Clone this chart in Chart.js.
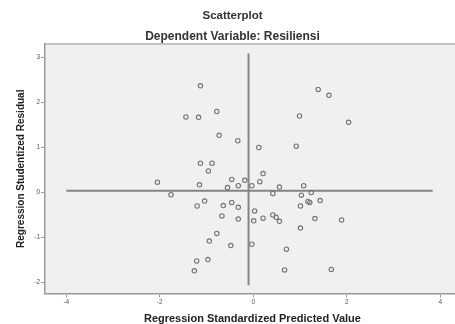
<!DOCTYPE html>
<html>
<head>
<meta charset="utf-8">
<script src="https://cdn.jsdelivr.net/npm/chart.js@4.4.1/dist/chart.umd.min.js"></script>
<style>
  html, body { margin: 0; padding: 0; background: #fff; overflow: hidden; }
  #wrap { width: 455px; height: 324px; overflow: hidden; }
</style>
</head>
<body>
<div id="wrap"><canvas id="plot" width="465" height="324"></canvas></div>
<script>
// Regression Standardized Predicted Value (x) / Regression Studentized Residual (y)
const predictedValues = [
  -1.13, -1.44, -1.17, -0.78, -0.73, -0.33, -1.13, -0.88, -0.96, -2.05,
  -0.46, 0.12, 0.92, 0.99, 1.39, 1.62, 2.04, 0.21, -0.18, 0.14,
  -1.15, -0.55, -0.32, -0.03, -1.76, -1.20, -1.04, -0.64, -0.46, -0.32,
  -0.67, -0.32, -0.78, -0.94, -0.48, -1.21, -0.97, -1.26, 0.56, 1.08,
  0.42, 1.03, 1.24, 1.17, 1.21, 1.43, 1.01, 0.03, 0.42, 0.49,
  0.56, 0.01, 0.21, 1.32, 1.89, 1.01, -0.03, 0.71, 0.67, 1.67
];
const studentizedResiduals = [
  2.36, 1.67, 1.66, 1.79, 1.26, 1.14, 0.64, 0.64, 0.47, 0.22,
  0.28, 0.99, 1.02, 1.69, 2.28, 2.15, 1.55, 0.41, 0.26, 0.23,
  0.16, 0.10, 0.14, 0.14, -0.06, -0.31, -0.20, -0.30, -0.23, -0.34,
  -0.53, -0.60, -0.92, -1.09, -1.19, -1.53, -1.50, -1.75, 0.11, 0.14,
  -0.03, -0.07, -0.01, -0.21, -0.23, -0.19, -0.31, -0.42, -0.51, -0.56,
  -0.65, -0.64, -0.58, -0.59, -0.62, -0.80, -1.16, -1.27, -1.73, -1.72
];
const xTickValues = [-4, -2, 0, 2, 4];
const yTickValues = [-2, -1, 0, 1, 2, 3];
// reference lines
const hLineX = [-4, 3.84];
const hLineY = 0.03;
const vLineX = -0.1;
const vLineY = [-2.07, 3.08];

const points = predictedValues.map((x, i) => ({ x: x, y: studentizedResiduals[i] }));

const FONT = 'Liberation Sans, Arial, sans-serif';
const lineColor = '#858585';

const plotFrame = {
  id: 'plotFrame',
  beforeDraw(chart) {
    const { ctx, chartArea: a } = chart;
    ctx.save();
    ctx.fillStyle = '#f0f0f0';
    ctx.fillRect(a.left, a.top, a.right - a.left, a.bottom - a.top);
    ctx.strokeStyle = '#c4c4c4';
    ctx.lineWidth = 2;
    ctx.beginPath();
    ctx.moveTo(a.left, a.top);
    ctx.lineTo(a.right, a.top);
    ctx.stroke();
    ctx.restore();
  }
};

new Chart(document.getElementById('plot'), {
  type: 'scatter',
  data: {
    datasets: [
      {
        data: points,
        pointStyle: 'circle',
        pointRadius: 2.2,
        borderWidth: 1.1,
        borderColor: '#737373',
        backgroundColor: 'rgba(0,0,0,0)'
      },
      {
        data: hLineX.map(x => ({ x: x, y: hLineY })),
        showLine: true,
        pointRadius: 0,
        borderColor: lineColor,
        borderWidth: 2
      },
      {
        data: vLineY.map(y => ({ x: vLineX, y: y })),
        showLine: true,
        pointRadius: 0,
        borderColor: lineColor,
        borderWidth: 2
      }
    ]
  },
  options: {
    responsive: false,
    animation: false,
    devicePixelRatio: 1,
    layout: { padding: 0 },
    plugins: {
      legend: { display: false },
      tooltip: { enabled: false },
      title: {
        display: true,
        text: 'Scatterplot',
        color: '#333',
        font: { family: FONT, size: 11.5, weight: 'bold' },
        padding: { top: 9.1, bottom: 0 }
      },
      subtitle: {
        display: true,
        text: 'Dependent Variable: Resiliensi',
        color: '#333',
        font: { family: FONT, size: 12, weight: 'bold', lineHeight: 1.15 },
        padding: { top: 7.2, bottom: 0.1 }
      }
    },
    scales: {
      x: {
        type: 'linear',
        min: -4.455,
        max: (464 - 255.3) / 47.2,
        afterFit: s => { s.height = 30.5; },
        afterBuildTicks: s => { s.ticks = xTickValues.map(v => ({ value: v })); },
        border: { display: true, color: '#999', width: 1.5 },
        grid: { drawOnChartArea: false, drawTicks: true, tickLength: 4, color: '#999' },
        ticks: {
          maxRotation: 0,
          padding: 1,
          color: '#555',
          font: { family: FONT, size: 6.5 }
        },
        title: {
          display: true,
          text: 'Regression Standardized Predicted Value',
          color: '#222',
          font: { family: FONT, size: 11, weight: 'bold', lineHeight: 1 },
          padding: 0
        }
      },
      y: {
        type: 'linear',
        min: -2.255,
        max: 3.29,
        afterFit: s => { s.width = 45; },
        afterBuildTicks: s => { s.ticks = yTickValues.map(v => ({ value: v })); },
        border: { display: true, color: '#999', width: 1.5 },
        grid: { drawOnChartArea: false, drawTicks: true, tickLength: 4, color: '#999' },
        ticks: {
          padding: 1,
          color: '#555',
          font: { family: FONT, size: 6.5 }
        },
        title: {
          display: true,
          text: 'Regression Studentized Residual',
          color: '#222',
          font: { family: FONT, size: 10, weight: 'bold' },
          padding: { top: 15, bottom: 0 }
        }
      }
    }
  },
  plugins: [plotFrame]
});
</script>
</body>
</html>
